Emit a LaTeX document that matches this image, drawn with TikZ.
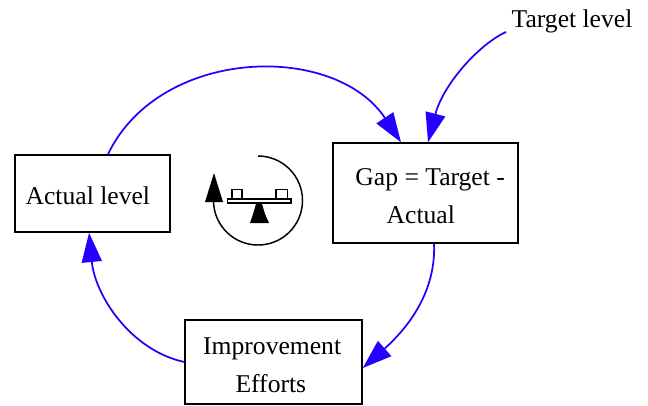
\documentclass[tikz,border=0pt]{standalone}
\usepackage{fontspec}
\setmainfont{Liberation Serif}
\usetikzlibrary{arrows.meta,positioning}
\definecolor{linkblue}{HTML}{2400FF}
\tikzset{
  vbox/.style={draw=black,line width=1.1pt,inner sep=0pt,align=center,font=\fontsize{19.2pt}{28.5pt}\selectfont},
  vtext/.style={inner sep=0pt,font=\fontsize{19.2pt}{28.5pt}\selectfont},
  link/.style={draw=linkblue,line width=1.3pt,-{Triangle[length=22pt,width=15pt]}},
  icon/.style={draw=black,line width=1.1pt}
}
\begin{document}
\begin{tikzpicture}[x=0.75pt,y=-0.75pt]
\useasboundingbox (0,0) rectangle (648,405);
\fill[white] (0,0) rectangle (648,405);
\node[vbox,minimum width=116.25pt,minimum height=57.75pt] (actual) at (92.5,193.5) {\rule{0pt}{16pt}Actual level\hspace*{7pt}};
\node[vbox,minimum width=138.75pt,minimum height=75pt] (gap) at (425.5,193) {\rule{0pt}{17pt}\hspace*{7pt}Gap = Target -\\Actual\hspace*{7pt}};
\node[vbox,minimum width=132.75pt,minimum height=63pt] (improve) at (273.5,362) {\rule{0pt}{18pt}Improvement\hspace*{2pt}\\Efforts\hspace*{4pt}};
\node[vtext] (target) at (572,21) {Target level};
\coordinate (tstart) at ([xshift=-49.5pt,yshift=0.75pt]target.south);
\draw[link] ([xshift=11.6pt]actual.north) .. controls +(52,-108) and +(-66,-100) .. ([xshift=-18.4pt]gap.north);
\draw[link] (tstart) .. controls (478,45) and (443,85) .. ([xshift=1.9pt]gap.north);
\draw[link] ([xshift=6.4pt]gap.south) .. controls (436,290) and (410,326) .. ([yshift=-4.5pt]improve.east);
\draw[link] (improve.west) .. controls (130,350) and (95,295) .. ([xshift=-2.6pt]actual.south);
% balancing-loop icon
\draw[icon] (258,156) arc[start angle=-90,end angle=178,radius=44.5];
\fill[black] (214,173) -- (223,202) -- (205,202) -- cycle;
\draw[icon] (227.5,199) rectangle (291,203);
\draw[icon] (232,189.5) rectangle (242,199);
\draw[icon] (276,189.5) rectangle (287.5,199);
\fill[black] (256,204) -- (262,204) -- (265,214) -- (269,223) -- (250,223) -- (253,214) -- cycle;
\end{tikzpicture}
\end{document}
